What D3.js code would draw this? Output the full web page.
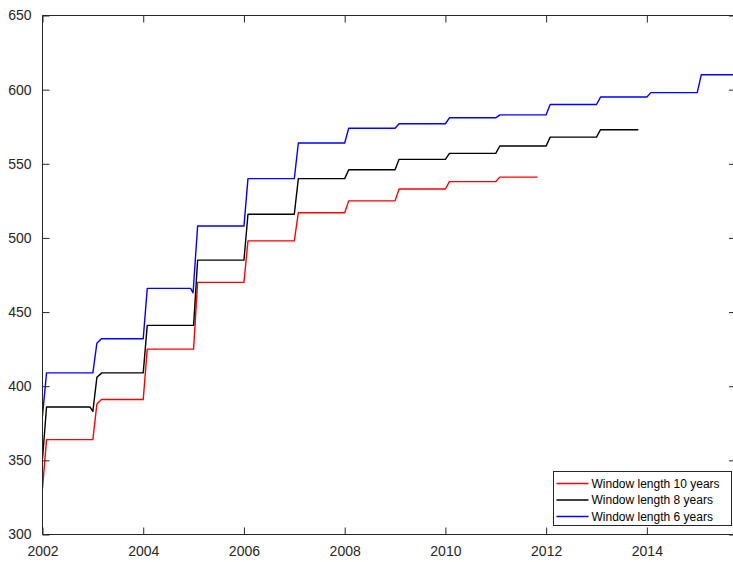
<!DOCTYPE html>
<html>
<head>
<meta charset="utf-8">
<script src="https://cdn.jsdelivr.net/npm/d3@7"></script>
<style>
  body { margin: 0; background: #fff; }
  svg { display: block; font-family: "Liberation Sans", Arial, sans-serif; }
</style>
</head>
<body>
<svg id="svg" width="733" height="562"></svg>
<script>
// breakpoints: [year, value]
var win10 = [
  [2002.00,331],[2002.08,364],[2003.00,364],[2003.08,388],[2003.17,391],
  [2004.00,391],[2004.08,425],[2005.00,425],[2005.08,470],[2006.00,470],
  [2006.08,498],[2007.00,498],[2007.08,517],[2008.00,517],[2008.08,525],
  [2009.00,525],[2009.08,533],[2010.00,533],[2010.08,538],[2011.00,538],
  [2011.08,541],[2011.83,541]
];
var win8 = [
  [2002.00,351],[2002.08,386],[2002.94,386],[2003.00,383],[2003.08,406],
  [2003.18,409],[2004.00,409],[2004.08,441],[2005.00,441],[2005.08,485],
  [2006.00,485],[2006.08,516],[2007.00,516],[2007.08,540],[2008.00,540],
  [2008.08,546],[2009.00,546],[2009.08,553],[2010.00,553],[2010.08,557],
  [2011.00,557],[2011.08,562],[2012.00,562],[2012.08,568],[2013.00,568],
  [2013.08,573],[2013.83,573]
];
var win6 = [
  [2002.00,380],[2002.08,409],[2003.00,409],[2003.08,429],[2003.17,432],
  [2004.00,432],[2004.08,466],[2004.94,466],[2004.99,463],[2005.08,508],
  [2006.00,508],[2006.08,540],[2007.00,540],[2007.08,564],[2008.00,564],
  [2008.08,574],[2009.00,574],[2009.08,577],[2010.00,577],[2010.08,581],
  [2011.00,581],[2011.08,583],[2012.00,583],[2012.08,590],[2013.00,590],
  [2013.08,595],[2014.00,595],[2014.08,598],[2015.00,598],[2015.08,610],
  [2016.00,610]
];
var seriesNames = ["Window length 10 years", "Window length 8 years", "Window length 6 years"];
var seriesColors = ["#ff0000", "#000000", "#0000ff"];
var xTicks = [2002, 2004, 2006, 2008, 2010, 2012, 2014];
var yTicks = [300, 350, 400, 450, 500, 550, 600, 650];

var L = 42.5, R = 736, T = 15.5, B = 534.5;
var svg = d3.select("#svg");
var x = d3.scaleLinear().domain([2002, 2015.77]).range([L, R]);
var y = d3.scaleLinear().domain([300, 650]).range([B, T]);

svg.append("defs").append("clipPath").attr("id", "clip")
  .append("rect").attr("x", L).attr("y", T).attr("width", R - L).attr("height", B - T);

var line = d3.line().x(d => x(d[0])).y(d => y(d[1]));
var plot = svg.append("g").attr("clip-path", "url(#clip)");
[win10, win8, win6].forEach((s, i) => {
  plot.append("path")
    .attr("d", line(s))
    .attr("fill", "none")
    .attr("stroke", seriesColors[i])
    .attr("stroke-width", 1.4)
    .attr("stroke-linejoin", "round");
});

// axes (ticks pointing inward, like the original)
var tk = 7;
function styleAxis(g) {
  g.selectAll("path, line").attr("stroke", "#262626");
  g.selectAll("text").attr("fill", "#262626").style("font-size", "14px");
}
svg.append("g").attr("transform", "translate(0," + B + ")")
  .call(d3.axisBottom(x).tickValues(xTicks).tickFormat(d3.format("d"))
    .tickSizeInner(-tk).tickSizeOuter(0).tickPadding(12))
  .call(styleAxis)
  .call(g => g.select(".domain").remove());
svg.append("g").attr("transform", "translate(0," + T + ")")
  .call(d3.axisTop(x).tickValues(xTicks).tickFormat("").tickSizeInner(-tk).tickSizeOuter(0))
  .call(styleAxis)
  .call(g => g.select(".domain").remove());
svg.append("g").attr("transform", "translate(" + L + ",0)")
  .call(d3.axisLeft(y).tickValues(yTicks).tickSizeInner(-tk).tickSizeOuter(0).tickPadding(11))
  .call(styleAxis)
  .call(g => g.select(".domain").remove());
svg.append("g").attr("transform", "translate(" + R + ",0)")
  .call(d3.axisRight(y).tickValues(yTicks).tickFormat("").tickSizeInner(-tk).tickSizeOuter(0))
  .call(styleAxis)
  .call(g => g.select(".domain").remove());

svg.append("path")
  .attr("d", "M" + L + "," + B + "H" + R + "M" + L + "," + T + "H" + R + "M" + L + "," + T + "V" + B + "M" + R + "," + T + "V" + B)
  .attr("fill", "none")
  .attr("stroke", "#262626")
  .attr("stroke-width", 1);

// legend
var lg = svg.append("g").attr("transform", "translate(553.5,471.5)");
lg.append("rect")
  .attr("width", 178).attr("height", 54)
  .attr("fill", "#fff").attr("stroke", "#262626").attr("stroke-width", 1);
seriesNames.forEach((n, i) => {
  var yy = 12 + i * 16.5;
  lg.append("line")
    .attr("x1", 3).attr("x2", 35).attr("y1", yy).attr("y2", yy)
    .attr("stroke", seriesColors[i]).attr("stroke-width", 1.4);
  lg.append("text")
    .attr("x", 38).attr("y", yy).attr("dy", "0.35em")
    .attr("fill", "#000").style("font-size", "12px")
    .text(n);
});
</script>
</body>
</html>
